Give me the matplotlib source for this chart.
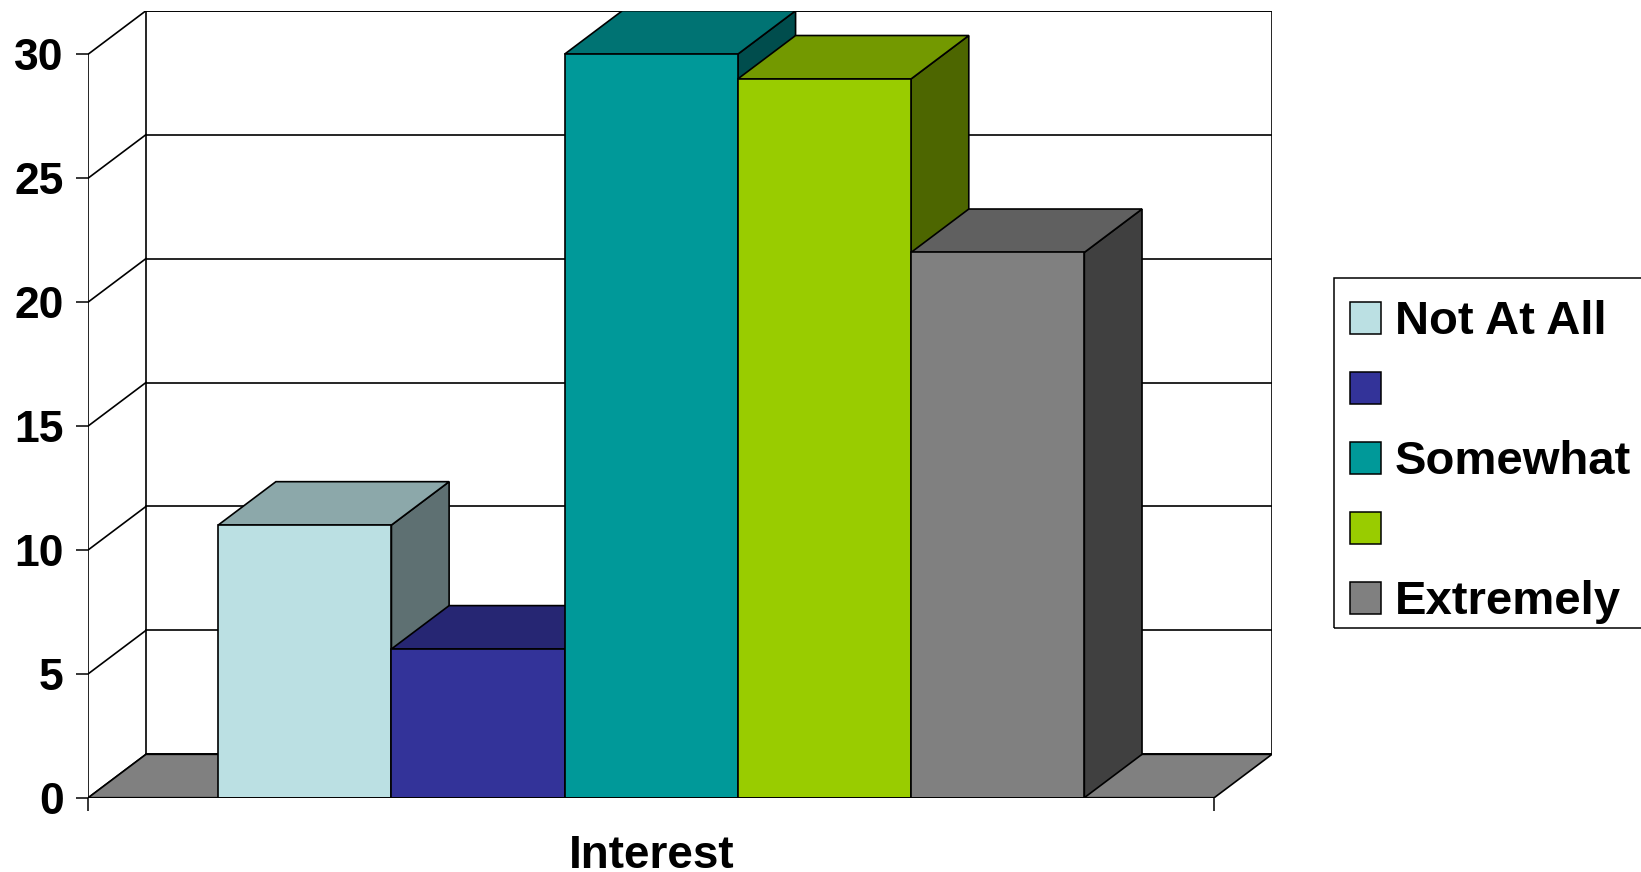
import matplotlib
matplotlib.use("Agg")
import matplotlib.pyplot as plt
from matplotlib.patches import Polygon, Patch, Rectangle
from matplotlib.colors import to_rgb

#%% data
levels = ["Not At All", "", "Somewhat", "", "Extremely"]
counts = [11, 6, 30, 29, 22]
colors = ["#BBE0E3", "#333399", "#009999", "#99CC00", "#808080"]
category = "Interest"
yticks = [0, 5, 10, 15, 20, 25, 30]

#%% 3d look settings
bar_w = 1.0
gap = 0.75          # half of the 150% gap width on each side
depth_x = 0.333     # how far the back wall is shifted right (bar units)
depth_y = 1.75      # and up (value units)
ymax = 30
lw = 1.2

plt.rcParams['font.family'] = ['Liberation Sans', 'DejaVu Sans']
plt.rcParams['font.weight'] = 'bold'


def shade(c, f):
    r, g, b = to_rgb(c)
    return (r * f, g * f, b * f)


fig = plt.figure(figsize=(16.41, 8.72), dpi=100)
ax = fig.add_axes([0.0538, 0.0852, 0.7213, 0.9025])

floor_w = gap * 2 + bar_w * len(counts)
ax.set_xlim(0, floor_w + depth_x)
ax.set_ylim(0, ymax + depth_y)

#%% walls and floor
back = Polygon([(depth_x, depth_y), (floor_w + depth_x, depth_y),
                (floor_w + depth_x, ymax + depth_y), (depth_x, ymax + depth_y)],
               closed=True, facecolor="white", edgecolor="black", lw=lw, zorder=1)
ax.add_patch(back)
for v in yticks:
    # gridline on the back wall and its diagonal on the side wall
    ax.plot([depth_x, floor_w + depth_x], [v + depth_y, v + depth_y],
            color="black", lw=lw, zorder=1)
    ax.plot([0, depth_x], [v, v + depth_y], color="black", lw=lw, zorder=1)
ax.plot([0, 0], [0, ymax], color="black", lw=lw, zorder=1)

floor = Polygon([(0, 0), (floor_w, 0), (floor_w + depth_x, depth_y), (depth_x, depth_y)],
                closed=True, facecolor="#808080", edgecolor="black", lw=lw, zorder=2)
ax.add_patch(floor)

#%% bars, drawn left to right so each one hides the side of the one before
for i, (v, c) in enumerate(zip(counts, colors)):
    x0 = gap + i * bar_w
    x1 = x0 + bar_w
    side = Polygon([(x1, 0), (x1 + depth_x, depth_y), (x1 + depth_x, v + depth_y), (x1, v)],
                   closed=True, facecolor=shade(c, 0.5), edgecolor="black", lw=lw, zorder=3)
    top = Polygon([(x0, v), (x1, v), (x1 + depth_x, v + depth_y), (x0 + depth_x, v + depth_y)],
                  closed=True, facecolor=shade(c, 0.75), edgecolor="black", lw=lw, zorder=3)
    front = Polygon([(x0, 0), (x1, 0), (x1, v), (x0, v)],
                    closed=True, facecolor=c, edgecolor="black", lw=lw, zorder=3)
    for p in (side, top, front):
        ax.add_patch(p)

ax.plot([0, floor_w], [0, 0], color="black", lw=2, zorder=4, solid_capstyle="butt")

#%% axes, ticks, labels
for s in ax.spines.values():
    s.set_visible(False)
ax.set_yticks(yticks)
ax.set_yticklabels([str(t) for t in yticks], fontsize=32, fontweight="bold")
ax.tick_params(axis="y", length=8.6, width=1.1, pad=9)
ax.set_xticks([0, floor_w])
ax.set_xticklabels(["", ""])
ax.tick_params(axis="x", length=9.4, width=1.1)

ax.text(floor_w / 2, -1.45, category, ha="center", va="top", fontsize=33,
        fontweight="bold", transform=ax.transData)

#%% legend (frame drawn separately, it runs off the right edge)
W, H = 1641, 872
frame = Rectangle((1334 / W, 1 - 627.7 / H), 0.3, (627.7 - 278.3) / H,
                  transform=fig.transFigure, facecolor="none", edgecolor="black",
                  lw=1.1)
fig.patches.append(frame)

handles = [Patch(facecolor=c, edgecolor="black", lw=1.1) for c in colors]
leg = ax.legend(handles, levels, loc="upper left",
                bbox_to_anchor=(1333.3 / W, 1 - 283.3 / H),
                bbox_transform=fig.transFigure, borderaxespad=0,
                fontsize=34, frameon=False,
                handlelength=0.66, handleheight=0.66, handletextpad=0.28,
                labelspacing=0.55, borderpad=0.36)
for t in leg.get_texts():
    t.set_fontweight("bold")

fig.savefig("out.png", dpi=100)
